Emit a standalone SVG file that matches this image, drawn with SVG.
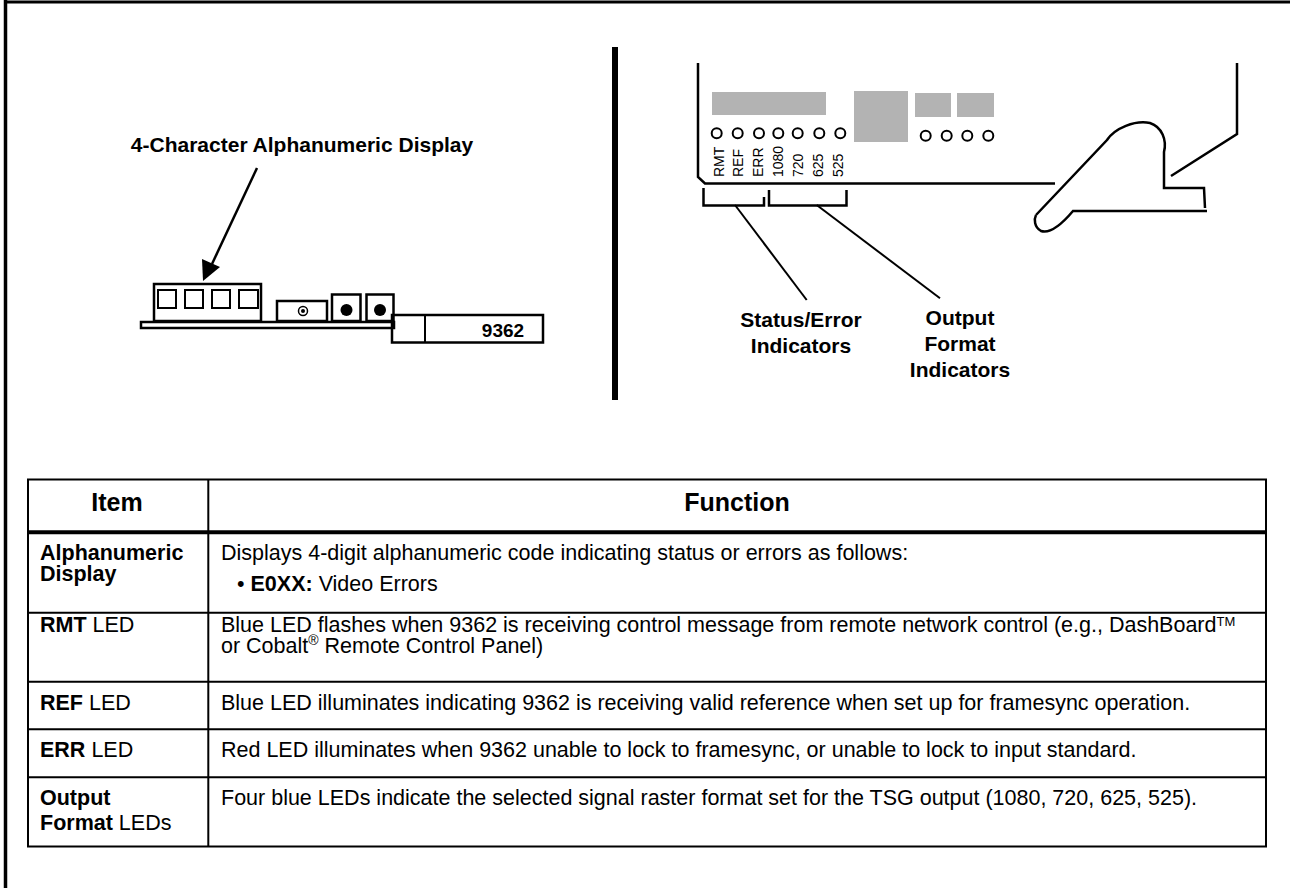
<svg xmlns="http://www.w3.org/2000/svg" width="1290" height="888" viewBox="0 0 1290 888">
  <style>
    text { font-family: "Liberation Sans", Arial, Helvetica, sans-serif; fill: #000; }
    .lbl { font-size: 21px; font-weight: bold; }
    .hdr { font-size: 25px; font-weight: bold; }
    .body { font-size: 21.5px; }
    .b { font-weight: bold; }
    .led { font-size: 14px; }
    .ln { fill: none; stroke: #000; stroke-width: 2.5; }
    .thin { fill: none; stroke: #000; stroke-width: 2; }
    .grid { fill: none; stroke: #000; stroke-width: 2; }
    .gray { fill: #b3b3b3; }
  </style>

  <rect width="1290" height="888" fill="#fff"/>

  <!-- page frame: top and left rules, centre divider -->
  <g id="frame">
    <line x1="4" y1="2" x2="1290" y2="2" stroke="#000" stroke-width="3"/>
    <line x1="5.5" y1="0" x2="5.5" y2="888" stroke="#000" stroke-width="3.5"/>
    <rect x="612" y="47" width="6" height="353" fill="#000"/>
  </g>

  <!-- left view: card edge with alphanumeric display -->
  <g id="card-edge">
    <rect x="141" y="322" width="253" height="6" class="ln"/>
    <rect x="154" y="284" width="107" height="37" class="ln" fill="#fff"/>
    <rect x="158" y="290" width="18" height="18" class="thin"/>
    <rect x="185" y="290" width="18" height="18" class="thin"/>
    <rect x="212" y="290" width="18" height="18" class="thin"/>
    <rect x="239" y="290" width="19" height="18" class="thin"/>
    <rect x="277" y="301" width="50" height="20" class="ln"/>
    <circle cx="303" cy="311" r="4.5" fill="none" stroke="#000" stroke-width="1.5"/>
    <circle cx="303" cy="311" r="2" fill="#000"/>
    <rect x="332" y="294.5" width="28.5" height="26.5" class="ln"/>
    <circle cx="346.5" cy="310" r="6" fill="#000"/>
    <rect x="366.5" y="294.5" width="27" height="26.5" class="ln"/>
    <circle cx="380" cy="310" r="6" fill="#000"/>
    <rect x="392" y="315" width="151" height="27.5" class="ln" fill="#fff"/>
    <line x1="425" y1="315" x2="425" y2="342.5" class="thin"/>
    <text x="503" y="337" class="b" text-anchor="middle" style="font-size:19px">9362</text>
  </g>

  <g id="display-label">
    <text x="302" y="152" class="lbl" text-anchor="middle">4-Character Alphanumeric Display</text>
  </g>

  <!-- right view: front panel with indicators -->
  <g id="front-panel">
    <polyline points="698,63 698,177 705,183.5 1055,183.5" class="ln"/>
    <polyline points="1237,63 1237,134 1171,176" class="ln"/>
    <rect x="712" y="92" width="114" height="23" class="gray"/>
    <rect x="854" y="91" width="54" height="51" class="gray"/>
    <rect x="915" y="93" width="36" height="24" class="gray"/>
    <rect x="957" y="93" width="37" height="24" class="gray"/>
    <g class="thin">
      <circle cx="716.7" cy="133.3" r="5"/>
      <circle cx="737.7" cy="133.3" r="5"/>
      <circle cx="759" cy="133.3" r="5"/>
      <circle cx="778.3" cy="133.3" r="5"/>
      <circle cx="797.7" cy="133.3" r="5"/>
      <circle cx="819.3" cy="133.3" r="5"/>
      <circle cx="840.3" cy="133.3" r="5"/>
      <circle cx="925.7" cy="135.7" r="5"/>
      <circle cx="946.7" cy="135.7" r="5"/>
      <circle cx="967.3" cy="135.7" r="5"/>
      <circle cx="988.3" cy="135.7" r="5"/>
    </g>
    <text class="led" transform="translate(723.5,177) rotate(-90)">RMT</text>
    <text class="led" transform="translate(742.5,177) rotate(-90)">REF</text>
    <text class="led" transform="translate(762.5,177) rotate(-90)">ERR</text>
    <text class="led" transform="translate(782.5,177) rotate(-90)">1080</text>
    <text class="led" transform="translate(802.5,177) rotate(-90)">720</text>
    <text class="led" transform="translate(822.5,177) rotate(-90)">625</text>
    <text class="led" transform="translate(843,177) rotate(-90)">525</text>
  </g>

  <!-- hand pressing the panel -->
  <g id="hand">
    <path d="M1036,215 L1107,140 C1115,128 1135,120 1150,123 C1162,127 1167,140 1164,152 L1164,188 L1204,188 L1205,208" class="ln"/>
    <path d="M1207,211 L1073,211 C1062,224 1050,234 1041,231 C1034,227 1034,219 1036,215" class="ln"/>
  </g>

  <g id="status-label">
    <text x="801" y="327" class="lbl" text-anchor="middle">Status/Error</text>
    <text x="801" y="353" class="lbl" text-anchor="middle">Indicators</text>
  </g>
  <g id="format-label">
    <text x="960" y="325" class="lbl" text-anchor="middle">Output</text>
    <text x="960" y="351" class="lbl" text-anchor="middle">Format</text>
    <text x="960" y="377" class="lbl" text-anchor="middle">Indicators</text>
  </g>

  <!-- callout leaders and brackets -->
  <g id="connectors">
    <line x1="257" y1="168" x2="212" y2="264" stroke="#000" stroke-width="2.5"/>
    <polygon points="203,281 202,259 220,267" fill="#000"/>
    <polyline points="703.5,188 703.5,205.5 764,205.5 764,197" class="ln" stroke-width="3"/>
    <polyline points="769,190 769,205.5 846.5,205.5 846.5,190" class="ln" stroke-width="3"/>
    <line x1="735" y1="205" x2="806.7" y2="300" stroke="#000" stroke-width="2"/>
    <line x1="816.7" y1="205" x2="940" y2="298.3" stroke="#000" stroke-width="2"/>
  </g>

  <!-- item / function table -->
  <g id="table">
    <rect x="28" y="479.5" width="1238" height="367" class="grid"/>
    <line x1="208.3" y1="479.5" x2="208.3" y2="846.5" class="grid"/>
    <line x1="28" y1="532.3" x2="1266" y2="532.3" stroke="#000" stroke-width="4"/>
    <line x1="28" y1="612.7" x2="1266" y2="612.7" class="grid"/>
    <line x1="28" y1="681.7" x2="1266" y2="681.7" class="grid"/>
    <line x1="28" y1="729.3" x2="1266" y2="729.3" class="grid"/>
    <line x1="28" y1="777.3" x2="1266" y2="777.3" class="grid"/>

    <text x="117" y="511" class="hdr" text-anchor="middle">Item</text>
    <text x="737" y="511" class="hdr" text-anchor="middle">Function</text>

    <text x="40" y="560" class="body b">Alphanumeric</text>
    <text x="40" y="581" class="body b">Display</text>
    <text x="221" y="560" class="body">Displays 4-digit alphanumeric code indicating status or errors as follows:</text>
    <text x="237" y="591" class="body">• <tspan class="b">E0XX:</tspan> Video Errors</text>

    <text x="40" y="632" class="body"><tspan class="b">RMT</tspan> LED</text>
    <text x="221" y="632" class="body">Blue LED flashes when 9362 is receiving control message from remote network control (e.g., DashBoard<tspan dy="-6" style="font-size:13px">TM</tspan></text>
    <text x="221" y="653" class="body">or Cobalt<tspan dy="-8" style="font-size:14px">®</tspan><tspan dy="8"> Remote Control Panel)</tspan></text>

    <text x="40" y="710" class="body"><tspan class="b">REF</tspan> LED</text>
    <text x="221" y="710" class="body">Blue LED illuminates indicating 9362 is receiving valid reference when set up for framesync operation.</text>

    <text x="40" y="757" class="body"><tspan class="b">ERR</tspan> LED</text>
    <text x="221" y="757" class="body">Red LED illuminates when 9362 unable to lock to framesync, or unable to lock to input standard.</text>

    <text x="40" y="805" class="body b">Output</text>
    <text x="40" y="830" class="body"><tspan class="b">Format</tspan> LEDs</text>
    <text x="221" y="805" class="body">Four blue LEDs indicate the selected signal raster format set for the TSG output (1080, 720, 625, 525).</text>
  </g>
</svg>
